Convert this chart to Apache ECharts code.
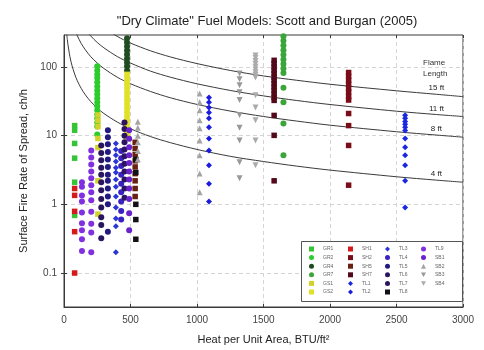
<!DOCTYPE html>
<html>
<head>
<meta charset="utf-8">
<script src="https://cdn.jsdelivr.net/npm/echarts@6/dist/echarts.min.js"></script>
<style>
  html, body { margin: 0; padding: 0; background: #ffffff; }
  #chart { width: 484px; height: 350px; }
</style>
</head>
<body>
<div id="chart"></div>
<script>
// ---- Axis ticks ----
const xTicks = [0, 500, 1000, 1500, 2000, 2500, 3000];
const yTicks = [0.1, 1, 10, 100];

// ---- Flame length reference curves (heat per unit area vs. rate of spread) ----
const curveHeat = [20, 25, 30, 40, 50, 60, 80, 100, 130, 160, 200, 250, 300, 400, 500, 650, 800, 1000, 1250, 1500, 1750, 2000, 2500, 2800, 3000];
const flame4ft  = [315, 252, 210, 158, 126, 105, 79, 63, 48.5, 39.4, 31.5, 25.2, 21.0, 15.8, 12.6, 9.7, 7.9, 6.3, 5.0, 4.2, 3.6, 3.15, 2.52, 2.25, 2.10];
const flame8ft  = [1423, 1138, 949, 711, 569, 474, 356, 285, 219, 178, 142, 114, 95, 71, 57, 44, 35.6, 28.5, 22.8, 19.0, 16.3, 14.2, 11.4, 10.2, 9.5];
const flame11ft = [2843, 2274, 1895, 1421, 1137, 948, 711, 569, 437, 355, 284, 227, 190, 142, 114, 87, 71, 56.9, 45.5, 37.9, 32.5, 28.4, 22.7, 20.3, 19.0];
const flame15ft = [5580, 4464, 3720, 2790, 2232, 1860, 1395, 1116, 858, 698, 558, 446, 372, 279, 223, 172, 140, 112, 89, 74, 64, 56, 45, 40, 37];
const flameLabels = ['4 ft', '8 ft', '11 ft', '15 ft'];
const labelHeat = 2800;

// ---- Fuel models (legend order) ----
const models = ['GR1', 'GR2', 'GR4', 'GR7', 'GS1', 'GS2',
                'SH1', 'SH2', 'SH5', 'SH7', 'TL1', 'TL2',
                'TL3', 'TL4', 'TL5', 'TL6', 'TL7', 'TL8',
                'TL9', 'SB1', 'SB2', 'SB3', 'SB4'];

// ---- Rate of spread (ch/h) for each fuel model column ----
const rosGR1 = [14, 12, 7.7, 4.7, 2.1, 0.69];
const rosGR2 = [102, 89, 78, 69, 60, 52, 45.5, 40, 35, 30.6, 26.7, 23.4, 20.4, 17.9, 15.6, 13.6, 10.4];
const rosGR4 = [261, 228, 199, 174, 152, 133, 116, 102, 89];
const rosGR7 = [280, 240, 205, 175, 150, 128, 110, 95, 82, 50, 30.6, 15, 5.2];
const rosGS1 = [20, 16.5, 13.5, 9.1, 6.7, 2.2, 0.72];
const rosGS2 = [78, 68.6, 59.7, 52.3, 45.5, 39.8, 34.8, 30.6, 26.7, 23.4, 20.4, 17.9, 15.6, 13.6, 11.9, 10.4, 9.4];
const rosSH1 = [1.7, 1.35, 0.79, 0.4, 0.1];
const rosSH2 = [83, 73, 64, 56, 49, 43, 37, 33, 21, 14, 7.2, 1.9];
const rosSH5 = [8, 6.5, 5.3, 4.3, 3.5, 2.8, 2.2, 1.7, 1.3];
const rosSH7 = [125, 112, 100, 89, 80, 71, 64, 57, 51, 45.5, 40.5, 36, 32.6, 19.7, 10.1, 2.2];
const rosTL1 = [19.8, 17.9, 16.1, 14.6, 13.2, 11.9, 9.1, 6.8, 5.2, 3.7, 2.2, 0.9];
const rosTL2 = [36, 30.6, 25.8, 21.8, 17.9, 13.2, 9.1, 6.1, 3.7, 2.0, 1.1];
const rosTL3 = [7.7, 6.3, 5.2, 4.2, 3.4, 2.9, 2.3, 1.8, 1.3, 0.9, 0.62, 0.48, 0.2];
const rosTL4 = [6, 4.7, 3.6, 2.7, 2.0, 1.5, 1.1, 0.8, 0.6];
const rosTL5 = [12, 9.5, 7.5, 5.8, 4.5, 3.5, 2.7, 2.2, 1.7, 1.3, 1.0, 0.4];
const rosTL6 = [7.2, 5.6, 4.4, 3.4, 2.7, 2.1, 1.6, 1.2, 0.9, 0.65, 0.5, 0.32];
const rosTL7 = [15.6, 12.5, 10, 8, 6.3, 5, 3.9, 3.0, 2.3, 1.7, 1.25];
const rosTL8 = [4.5, 2.9, 1.0, 0.6, 0.31];
const rosTL9a = [2.1, 1.8, 1.35, 1.1, 0.76, 0.53, 0.42, 0.31, 0.21];
const rosTL9b = [6.1, 4.8, 3.8, 3.0, 2.4, 1.9, 1.5, 1.15, 0.78, 0.52, 0.39, 0.2];
const rosSB1 = [12, 9, 6.8, 5.2, 4, 3, 2.3, 1.7, 1.2, 0.74, 0.42];
const rosSB2a = [16, 13, 10, 8, 6, 4.5];
const rosSB2b = [41, 30.6, 23.4, 16.7, 12.8, 8.5, 5.2, 2.8, 1.5];
const rosSB3 = [80, 66, 54, 43, 33, 20, 13, 8.5, 4.1, 2.4];
const rosSB4 = [147, 135, 122, 111, 101, 92, 84, 77, 70, 38.6, 25.8, 16.7, 8.5, 3.7];

// Each column: [model, heat per unit area (BTU/ft2), rates of spread]
const columns = [
  ['GR1', 80, rosGR1], ['SH1', 80, rosSH1],
  ['TL9', 135, rosTL9a], ['TL9', 205, rosTL9b],
  ['GR2', 250, rosGR2], ['GS1', 255, rosGS1],
  ['TL6', 280, rosTL6], ['TL5', 330, rosTL5],
  ['TL3', 390, rosTL3], ['TL4', 430, rosTL4],
  ['TL7', 455, rosTL7], ['GR4', 474, rosGR4], ['GS2', 474, rosGS2],
  ['SB1', 490, rosSB1], ['SH5', 535, rosSH5], ['TL8', 540, rosTL8],
  ['SB2', 555, rosSB2a], ['SB2', 1020, rosSB2b],
  ['TL2', 1090, rosTL2], ['SB3', 1320, rosSB3], ['SB4', 1440, rosSB4],
  ['SH7', 1580, rosSH7], ['GR7', 1650, rosGR7],
  ['SH2', 2140, rosSH2], ['TL1', 2565, rosTL1]
];

// ---- Marker styles ----
const downTri = 'path://M0,0 L10,0 L5,9 Z';
const modelColor = ['#35c435', '#2ccc2c', '#1f4d1f', '#3aa63a', '#d2d22a', '#e0e028',
                    '#d41a1a', '#7a0c18', '#6a2010', '#520a1a', '#1a28e0', '#1c1ce0',
                    '#2a36d8', '#3a22c0', '#221a80', '#2a1660', '#2c1460', '#141018',
                    '#8030e0', '#6a22cc', '#a4a4a4', '#989898', '#ababab'];
const modelSymbol = ['rect', 'circle', 'circle', 'circle', 'rect', 'rect',
                     'rect', 'rect', 'rect', 'rect', 'diamond', 'diamond',
                     'diamond', 'circle', 'circle', 'circle', 'circle', 'rect',
                     'circle', 'circle', 'triangle', downTri, downTri];

const font = 'Arial, "Liberation Sans", sans-serif';

// Flame length curve series, labelled near the right edge
const curves = [flame4ft, flame8ft, flame11ft, flame15ft].map((ros, k) => ({
  type: 'line',
  name: flameLabels[k],
  smooth: 0.3,
  symbol: 'circle',
  symbolSize: 0,
  showSymbol: true,
  showAllSymbol: true,
  silent: true,
  clip: true,
  legendHoverLink: false,
  lineStyle: { color: '#3a3a3a', width: 1 },
  itemStyle: { color: 'transparent' },
  label: { show: false },
  z: 1,
  data: curveHeat.map((h, i) => h === labelHeat
    ? { value: [h, ros[i]],
        label: { show: true, position: 'top', distance: 2, formatter: flameLabels[k],
                 fontSize: 8, color: '#222', fontFamily: font } }
    : [h, ros[i]])
}));

// Scatter series, one per fuel model
const scatters = models.map((m, i) => ({
  type: 'scatter',
  name: m,
  symbol: modelSymbol[i],
  symbolSize: modelSymbol[i] === 'rect' ? 5.5 : 6,
  itemStyle: { color: modelColor[i], opacity: 1 },
  z: 3,
  data: columns.filter(c => c[0] === m)
               .flatMap(c => c[2].map(r => [c[1], r]))
}));

const legendCols = [models.slice(0, 6), models.slice(6, 12), models.slice(12, 18), models.slice(18)];
const legendLeft = [309, 348, 385, 421];

const chart = echarts.init(document.getElementById('chart'), null, { renderer: 'canvas' });
chart.setOption({
  animation: false,
  backgroundColor: '#ffffff',
  title: {
    text: '"Dry Climate" Fuel Models: Scott and Burgan (2005)',
    left: 262, top: 10, textAlign: 'center',
    textStyle: { fontSize: 13, fontWeight: 'normal', color: '#222', fontFamily: font }
  },
  grid: {
    left: 64, right: 21, top: 35, bottom: 43,
    show: true, borderColor: '#3a3a3a', borderWidth: 1, backgroundColor: 'transparent'
  },
  legend: legendCols.map((names, j) => ({
    data: names,
    orient: 'vertical',
    left: legendLeft[j], top: 246,
    itemWidth: 5, itemHeight: 5, itemGap: 2.6,
    padding: 0,
    selectedMode: false,
    textStyle: { fontSize: 5, lineHeight: 6, color: '#666', fontFamily: font, padding: [0, 0, 0, 4] }
  })),
  xAxis: [{
    type: 'value', min: 0, max: 3000, interval: 500,
    name: 'Heat per Unit Area, BTU/ft\u00B2',
    nameLocation: 'middle', nameGap: 27,
    nameTextStyle: { fontSize: 11, color: '#222', fontFamily: font },
    axisLine: { show: true, lineStyle: { color: '#3a3a3a' } },
    axisTick: { show: true, inside: true, length: 3, lineStyle: { color: '#3a3a3a' } },
    axisLabel: { fontSize: 10, color: '#444', margin: 8, fontFamily: font,
                 customValues: xTicks, formatter: v => String(v) },
    splitLine: { show: true, lineStyle: { color: '#d4d4d4', type: [4, 3], width: 1 } }
  }, {
    type: 'value', min: 0, max: 3000, interval: 500, position: 'top',
    axisLine: { show: false },
    axisTick: { show: true, inside: true, length: 3, lineStyle: { color: '#3a3a3a' } },
    axisLabel: { show: false },
    splitLine: { show: false }
  }],
  yAxis: [{
    type: 'log', logBase: 10, min: 0.032, max: 292,
    name: 'Surface Fire Rate of Spread, ch/h',
    nameLocation: 'middle', nameGap: 34,
    nameTextStyle: { fontSize: 11, color: '#222', fontFamily: font },
    axisLine: { show: true, lineStyle: { color: '#3a3a3a' } },
    axisTick: { show: true, inside: true, length: 3, customValues: yTicks, lineStyle: { color: '#3a3a3a' } },
    axisLabel: { fontSize: 10, color: '#444', margin: 7, fontFamily: font, customValues: yTicks,
                 formatter: v => String(+Number(v).toPrecision(3)) },
    splitLine: { show: true, lineStyle: { color: '#d4d4d4', type: [4, 3], width: 1 } },
    minorSplitLine: { show: false }
  }, {
    type: 'log', logBase: 10, min: 0.032, max: 292, position: 'right',
    axisLine: { show: false },
    axisTick: { show: true, inside: true, length: 3, customValues: yTicks, lineStyle: { color: '#3a3a3a' } },
    axisLabel: { show: false, customValues: yTicks },
    splitLine: { show: false }
  }],
  graphic: [
    { type: 'rect', left: 301, top: 241, shape: { width: 161, height: 60 },
      style: { fill: '#ffffff', stroke: '#555', lineWidth: 1 }, z: 4 },
    { type: 'text', left: 423, top: 57, z: 5,
      style: { text: 'Flame\nLength', fontSize: 8, lineHeight: 11, fill: '#333',
               align: 'center', fontFamily: font, x: 14 } }
  ],
  series: [...curves, ...scatters]
});
</script>
</body>
</html>
